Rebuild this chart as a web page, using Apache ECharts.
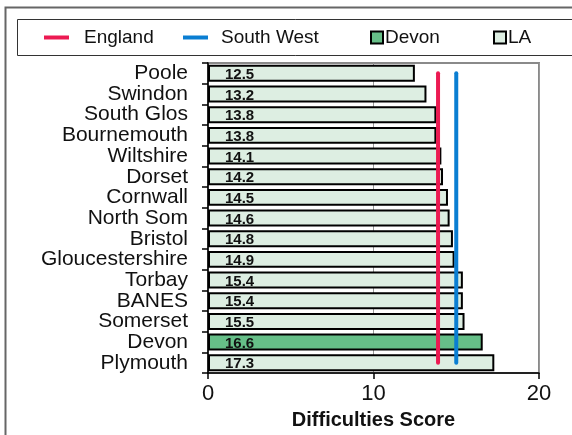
<!DOCTYPE html>
<html>
<head>
<meta charset="utf-8">
<script src="https://cdn.jsdelivr.net/npm/echarts@6/dist/echarts.min.js"></script>
<style>
html,body{margin:0;padding:0;background:#fff;}
#c{width:572px;height:435px;}
</style>
</head>
<body>
<div id="c"></div>
<script>
const categories = ["Poole","Swindon","South Glos","Bournemouth","Wiltshire","Dorset","Cornwall","North Som","Bristol","Gloucestershire","Torbay","BANES","Somerset","Devon","Plymouth"];
const scores = [12.5,13.2,13.8,13.8,14.1,14.2,14.5,14.6,14.8,14.9,15.4,15.4,15.5,16.6,17.3];
const highlight = "Devon";
const englandValue = 13.9;
const southWestValue = 15.0;
const xTicks = [0, 10, 20];
const axisTitle = "Difficulties Score";

const FONT = "'Liberation Sans', Arial, sans-serif";
const laData = scores.map((v, i) => categories[i] === highlight ? '-' : v);
const devonData = scores.map((v, i) => categories[i] === highlight ? v : '-');
const first = categories[0], last = categories[categories.length - 1];

const chart = echarts.init(document.getElementById('c'), null, {renderer: 'canvas'});

const labelOpt = {
  show: true, position: 'insideLeft', distance: 17, offset: [0, 1.5],
  fontFamily: FONT, fontWeight: 'bold', fontSize: 15, color: '#111',
  formatter: p => p.value.toFixed(1)
};

function legendAt(left, name, w, h) {
  return {
    left: left, top: 28, padding: 0, itemWidth: w, itemHeight: h,
    data: [name], selectedMode: false,
    textStyle: {fontFamily: FONT, fontSize: 19, color: '#111'}
  };
}

chart.setOption({
  animation: false,
  backgroundColor: '#fff',
  graphic: [
    {type: 'rect', shape: {x: 5.5, y: 7.5, width: 700, height: 500}, style: {fill: null, stroke: '#666', lineWidth: 2}, silent: true, z: 0},
    {type: 'rect', shape: {x: 17.5, y: 19.5, width: 700, height: 36}, style: {fill: null, stroke: '#333', lineWidth: 1}, silent: true, z: 0}
  ],
  legend: [
    Object.assign(legendAt(44, 'England', 25, 4), {data: [{name: 'England', icon: 'rect', itemStyle: {color: '#ec1a52'}}], textStyle: {fontFamily: FONT, fontSize: 19, color: '#111', padding: [0, 0, 0, 10]}}),
    Object.assign(legendAt(183, 'South West', 25, 4), {data: [{name: 'South West', icon: 'rect', itemStyle: {color: '#0a7ed2'}}], textStyle: {fontFamily: FONT, fontSize: 19, color: '#111', padding: [0, 0, 0, 8]}}),
    Object.assign(legendAt(370, 'Devon', 12, 12), {data: [{name: 'Devon', icon: 'rect'}], textStyle: {fontFamily: FONT, fontSize: 19, color: '#111', padding: [0, 0, 0, -3]}}),
    Object.assign(legendAt(493, 'LA', 12, 12), {data: [{name: 'LA', icon: 'rect'}], textStyle: {fontFamily: FONT, fontSize: 19, color: '#111', padding: [0, 0, 0, -3]}})
  ],
  grid: {left: 208, right: 33, top: 63, bottom: 61.5, show: true, borderColor: '#8a8a8a', borderWidth: 2, backgroundColor: 'transparent'},
  xAxis: {
    type: 'value', min: xTicks[0], max: xTicks[xTicks.length - 1], interval: 10,
    axisLine: {show: true, lineStyle: {color: '#000', width: 1.5}},
    axisTick: {show: true, length: 6, lineStyle: {color: '#000', width: 1.5}},
    splitLine: {show: true, lineStyle: {color: '#999', width: 1}},
    axisLabel: {fontFamily: FONT, fontSize: 22, color: '#111', margin: 10},
    name: axisTitle, nameLocation: 'middle', nameGap: 36,
    nameTextStyle: {fontFamily: FONT, fontSize: 20, fontWeight: 'bold', color: '#111'}
  },
  yAxis: {
    type: 'category', data: categories, inverse: true,
    axisLine: {show: true, lineStyle: {color: '#000', width: 1.5}},
    axisTick: {show: true, length: 6, inside: false, interval: 0, lineStyle: {color: '#000', width: 1.5}},
    axisLabel: {fontFamily: FONT, fontSize: 21, color: '#111', margin: 20, interval: 0, lineHeight: 20},
    splitLine: {show: false}
  },
  series: [
    {
      name: 'LA', type: 'bar', data: laData, barCategoryGap: '18%', barGap: '-100%',
      itemStyle: {color: '#ddeee2', borderColor: '#000', borderWidth: 2},
      label: labelOpt, z: 2
    },
    {
      name: 'Devon', type: 'bar', data: devonData, barCategoryGap: '18%', barGap: '-100%',
      itemStyle: {color: '#66bf88', borderColor: '#000', borderWidth: 2},
      label: labelOpt, z: 2
    },
    {
      name: 'England', type: 'line', color: '#ec1a52',
      data: [[englandValue, first], [englandValue, last]],
      symbol: 'none', lineStyle: {color: '#ec1a52', width: 4, cap: 'round'},
      itemStyle: {color: '#ec1a52'}, z: 5
    },
    {
      name: 'South West', type: 'line', color: '#0a7ed2',
      data: [[southWestValue, first], [southWestValue, last]],
      symbol: 'none', lineStyle: {color: '#0a7ed2', width: 4, cap: 'round'},
      itemStyle: {color: '#0a7ed2'}, z: 5
    }
  ]
});
</script>
</body>
</html>
